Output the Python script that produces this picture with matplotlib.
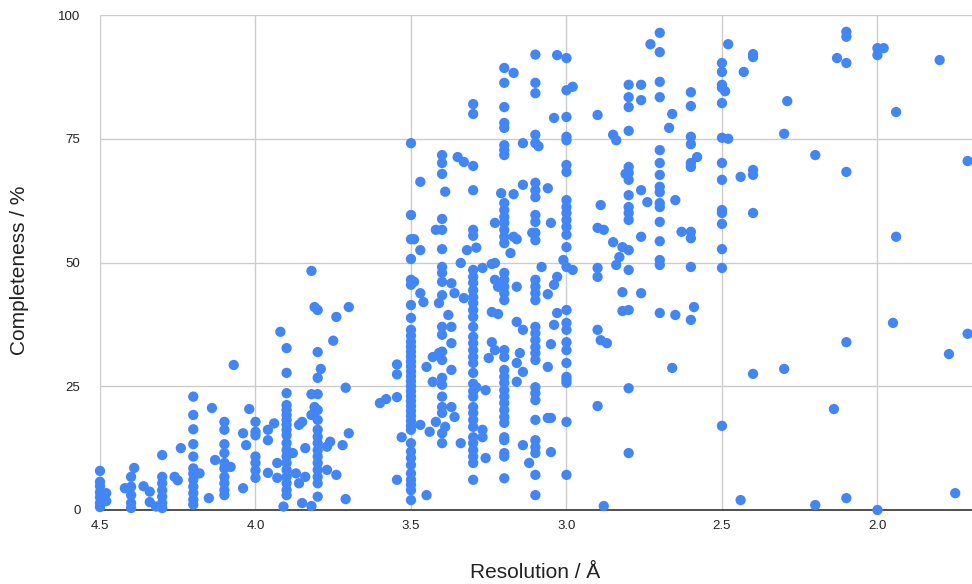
import matplotlib
matplotlib.use("Agg")
import matplotlib.pyplot as plt

plt.rcParams['font.family'] = ['Liberation Sans', 'DejaVu Sans']

# completeness (%) of structures sitting on the common resolution steps
col_res = [4.5, 4.4, 4.3, 4.2, 4.1, 4.0, 3.9, 3.8, 3.5, 3.4, 3.3, 3.2, 3.1,
           3.0, 2.9, 2.8, 2.7, 2.6, 2.5, 2.4, 2.1, 2.0]
c45 = [7.9, 5.7, 4.8, 3.6, 2.6, 1.4, 0.6]
c44 = [6.7, 4.7, 3.0, 1.4, 0.4]
c43 = [11.1, 6.7, 5.4, 4.0, 2.7, 1.4, 0.4]
c42 = [22.9, 19.2, 16.3, 13.3, 10.8, 8.4, 7.4, 6.1, 4.7, 3.4, 2.1, 1.1]
c41 = [17.8, 16.2, 13.3, 11.5, 9.5, 8.4, 6.7, 5.4, 4.0, 3.0]
c40 = [17.8, 15.8, 15.1, 10.8, 9.5, 8.0, 6.5]
c39 = [32.7, 27.7, 23.6, 21.2, 20.2, 19.2, 18.2, 17.2, 16.2, 15.1, 13.5, 12.1,
       10.8, 9.5, 8.1, 6.7, 5.4, 4.0, 3.0]
c38 = [40.4, 31.9, 26.7, 23.4, 20.2, 18.2, 16.2, 14.8, 13.5, 12.1, 10.8, 9.5,
       8.1, 6.7, 5.4, 2.7]
c35 = [74.1, 59.6, 54.7, 50.7, 46.5, 45.5, 41.4, 38.8, 36.4, 35.2, 34.0, 33.0,
       32.0, 31.0, 30.0, 29.0, 28.0, 27.0, 26.0, 25.0, 24.0, 23.0, 22.0, 21.0,
       20.0, 19.0, 18.0, 17.0, 16.2, 13.5, 11.8, 10.5, 9.1, 7.4, 6.1, 5.1, 4.0, 2.0]
c34 = [71.7, 70.1, 67.9, 58.8, 56.6, 52.7, 49.1, 47.9, 46.1, 43.4, 37.0, 35.4,
       32.0, 30.3, 26.7, 25.3, 22.9, 20.8, 19.6, 15.5, 13.5]
c33 = [82.0, 80.0, 69.5, 64.6, 56.6, 55.4, 48.5, 47.1, 45.9, 44.4, 43.0, 41.8,
       40.4, 39.0, 37.0, 35.0, 33.7, 32.3, 30.9, 29.7, 27.7, 25.5, 24.0, 22.9,
       20.8, 19.6, 18.2, 16.8, 14.7, 13.5, 12.1, 10.8, 9.5, 6.1]
c32 = [89.3, 86.3, 81.4, 78.2, 77.2, 73.7, 72.7, 71.7, 62.0, 60.6, 59.2, 58.0,
       56.6, 55.2, 53.9, 47.9, 46.5, 45.1, 43.8, 42.4, 32.3, 30.9, 28.3, 26.9,
       25.7, 24.2, 22.9, 21.6, 20.2, 18.8, 17.6, 14.7, 14.1, 11.5, 10.8, 6.4]
c31 = [92.0, 86.3, 84.2, 75.8, 74.1, 66.1, 64.6, 63.2, 59.6, 58.2, 56.0, 54.5,
       46.5, 45.1, 43.8, 42.4, 37.0, 35.7, 34.3, 32.9, 31.7, 30.3, 24.8, 23.6,
       22.2, 18.2, 14.1, 12.7, 11.5, 7.1, 3.0]
c30 = [91.3, 84.8, 79.4, 75.4, 74.7, 69.7, 68.3, 62.6, 61.2, 60.0, 58.6, 57.2,
       55.6, 53.1, 49.1, 40.4, 37.8, 36.4, 33.9, 32.3, 29.7, 26.9, 26.3, 25.7,
       17.8, 7.1]
c29 = [79.8, 57.0, 48.9, 47.1, 36.4, 21.0]
c28 = [85.9, 83.4, 81.4, 76.6, 69.3, 68.1, 66.7, 63.6, 61.2, 60.0, 58.6, 52.5,
       48.5, 40.4, 24.6, 11.5]
c27 = [96.4, 92.5, 86.5, 83.4, 72.7, 70.1, 67.7, 65.3, 64.2, 62.0, 61.2, 58.2,
       54.3, 50.5, 49.5, 39.8]
c26 = [84.4, 81.6, 75.4, 73.9, 70.1, 69.3, 56.2, 54.9, 49.1, 38.4]
c25 = [90.3, 88.5, 85.9, 85.3, 82.2, 75.2, 70.1, 66.7, 60.6, 60.0, 57.8, 52.7,
       48.9, 17.0]
c24 = [92.1, 91.5, 68.7, 67.7, 60.0, 27.5]
c21 = [96.6, 95.6, 90.3, 68.3, 33.9, 2.4]
c20 = [93.3, 91.9, 0.0]
col_comp = [c45, c44, c43, c42, c41, c40, c39, c38, c35, c34, c33, c32, c31,
            c30, c29, c28, c27, c26, c25, c24, c21, c20]

# the rest, off the common steps
other_res = [4.48, 4.48, 4.39, 4.42, 4.36, 4.34, 4.34, 4.32, 4.26, 4.25, 4.24,
             4.18, 4.14, 4.15, 4.13, 4.08, 4.07, 4.02, 4.03, 4.04, 4.04,
             3.96, 3.96, 3.96, 3.94, 3.93, 3.93, 3.92, 3.91, 3.88, 3.87, 3.86,
             3.86, 3.85, 3.85, 3.84, 3.84, 3.82, 3.82, 3.82, 3.81, 3.82, 3.81,
             3.79, 3.76, 3.77, 3.77, 3.74, 3.74, 3.75, 3.72, 3.70, 3.70, 3.71,
             3.71, 3.60, 3.58, 3.545, 3.545, 3.545, 3.545, 3.53,
             3.47, 3.47, 3.47, 3.47, 3.49, 3.49, 3.46, 3.44, 3.45, 3.45,
             3.39, 3.39, 3.35, 3.33, 3.33, 3.42, 3.42, 3.34, 3.34,
             3.37, 3.37, 3.37, 3.37, 3.37, 3.36, 3.36, 3.38, 3.43, 3.43,
             3.41, 3.41, 3.32, 3.29, 3.29, 3.27, 3.27, 3.27, 3.24, 3.24, 3.24,
             3.17, 3.17, 3.17, 3.14, 3.14, 3.14, 3.14, 3.14, 3.21,
             3.23, 3.23, 3.23, 3.23, 3.16, 3.16, 3.16, 3.16, 3.18, 3.22, 3.22,
             3.15, 3.16, 3.25, 3.26, 3.26, 3.12,
             3.06, 3.06, 3.06, 3.06, 3.05, 3.05, 3.05, 3.05, 3.08,
             3.04, 3.04, 3.04, 3.03, 3.03, 3.03, 3.09, 3.11, 3.01, 2.98, 2.98,
             2.89, 2.89, 2.88, 2.88, 2.87, 2.85, 2.85, 2.84, 2.84, 2.83,
             2.82, 2.82, 2.82, 2.81, 2.76, 2.76, 2.76, 2.76, 2.76, 2.74, 2.73,
             2.66, 2.66, 2.67, 2.65, 2.65, 2.63, 2.58, 2.59,
             2.49, 2.48, 2.48, 2.43, 2.44, 2.44, 2.29, 2.30, 2.30,
             2.20, 2.20, 2.14, 2.13, 1.98, 1.80, 1.94, 1.94, 1.95,
             1.71, 1.71, 1.77, 1.75]
other_comp = [3.4, 1.8, 8.5, 4.4, 4.8, 3.7, 1.6, 0.7, 6.7, 6.0, 12.5,
              7.4, 20.6, 2.4, 10.1, 8.7, 29.3, 20.4, 13.1, 15.5, 4.4,
              16.2, 14.1, 7.5, 17.5, 9.5, 6.5, 36.0, 0.7, 11.5, 7.4, 5.4,
              17.2, 17.8, 1.4, 12.5, 6.7, 48.3, 23.4, 0.8, 20.8, 19.2, 41.0,
              28.5, 13.8, 12.8, 8.1, 7.1, 39.0, 34.2, 13.1, 15.5, 41.0, 2.2,
              24.7, 21.6, 22.4, 29.4, 27.4, 22.8, 6.1, 14.7,
              66.3, 52.5, 43.8, 17.2, 54.7, 46.1, 42.0, 15.8, 3.0, 28.9,
              64.3, 16.8, 71.3, 70.3, 42.8, 56.6, 17.8, 49.9, 13.5,
              45.8, 37.0, 33.7, 28.3, 20.8, 43.8, 18.8, 39.4, 30.9, 25.9,
              31.7, 41.8, 52.5, 53.0, 24.8, 48.9, 16.2, 14.7, 49.7, 40.0, 33.9,
              88.3, 63.8, 55.2, 74.1, 65.7, 36.4, 27.9, 13.1, 64.0,
              58.0, 49.9, 46.5, 32.3, 54.7, 45.1, 29.7, 25.9, 51.9, 45.1, 39.6,
              31.7, 38.0, 30.7, 24.2, 10.5, 9.5,
              18.6, 43.6, 28.9, 65.0, 18.6, 11.7, 33.5, 58.0, 49.1,
              37.4, 45.5, 79.2, 39.8, 47.1, 91.9, 73.5, 56.0, 50.5, 85.5, 48.5,
              61.6, 34.3, 56.6, 0.8, 33.7, 54.1, 75.8, 74.7, 49.5, 51.1,
              44.0, 40.2, 53.1, 67.9, 85.9, 82.8, 64.6, 55.2, 43.8, 62.2, 94.1,
              80.0, 28.7, 77.2, 62.6, 39.4, 56.2, 71.3, 41.0,
              84.6, 94.1, 75.0, 88.5, 67.3, 2.0, 82.6, 76.0, 28.5,
              71.7, 1.0, 20.4, 91.3, 93.3, 90.9, 80.4, 55.2, 37.8,
              70.5, 35.6, 31.5, 3.4]

xs = list(other_res)
ys = list(other_comp)
for r, vals in zip(col_res, col_comp):
    xs += [r] * len(vals)
    ys += vals

fig = plt.figure(figsize=(9.72, 5.84), dpi=100)
ax = fig.add_axes([100 / 972, 74 / 584, 872 / 972, 495 / 584])

ax.scatter(xs, ys, s=55, color='#4285f4', edgecolors='none', clip_on=False, zorder=3)

ax.set_xlim(4.5, 1.696)
ax.set_ylim(0, 100)
ax.set_xticks([4.5, 4.0, 3.5, 3.0, 2.5, 2.0])
ax.set_xticklabels(['4.5', '4.0', '3.5', '3.0', '2.5', '2.0'])
ax.set_yticks([0, 25, 50, 75, 100])
ax.grid(True, color='#cccccc', linewidth=1)
ax.set_axisbelow(True)
for side in ['top', 'right', 'left']:
    ax.spines[side].set_visible(False)
ax.spines['bottom'].set_color('#333333')
ax.spines['bottom'].set_linewidth(1.2)
ax.tick_params(length=0, labelsize=9.5, colors='#222222', pad=7)
ax.tick_params(axis='y', pad=14)

ax.set_xlabel('Resolution / Å', fontsize=15, color='#222222')
ax.set_ylabel('Completeness / %', fontsize=15, color='#222222')
ax.xaxis.set_label_coords((535 - 100) / 872, (510 - 573) / 495)
ax.yaxis.set_label_coords((20 - 100) / 872, (510 - 270) / 495)
ax.xaxis.label.set_va('center')
ax.yaxis.label.set_va('center')

fig.savefig('out.png', dpi=100)
